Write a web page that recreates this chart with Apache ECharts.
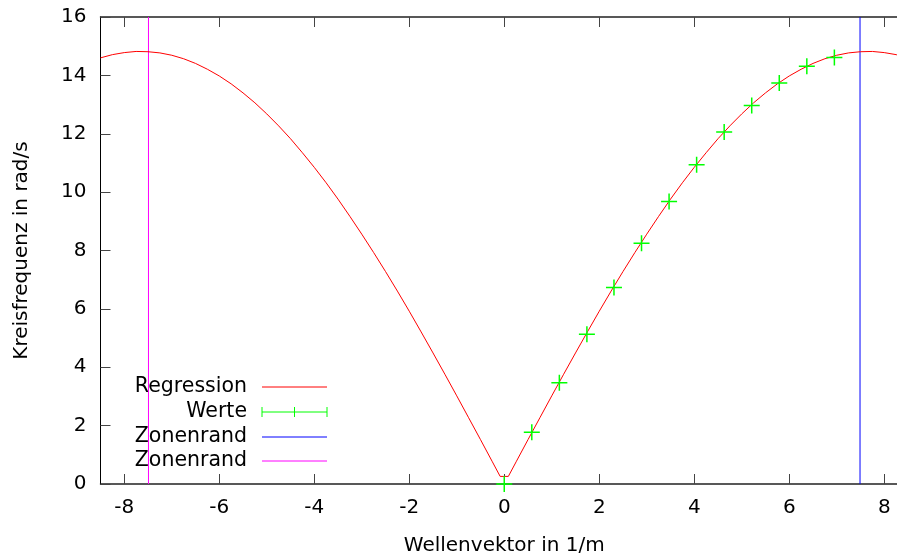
<!DOCTYPE html>
<html>
<head>
<meta charset="utf-8">
<script src="https://cdn.jsdelivr.net/npm/echarts@6/dist/echarts.min.js"></script>
<style>
  html, body { margin: 0; padding: 0; background: #fff; overflow: hidden; }
  #chart { width: 897px; height: 556px; }
</style>
</head>
<body>
<div id="chart"></div>
<script>
// Fitted dispersion curve (wave vector k, angular frequency omega)
const curveK = [-8.5, -8.25, -8, -7.75, -7.5, -7.25, -7, -6.75, -6.5, -6.25, -6, -5.75, -5.5, -5.25, -5, -4.75,
                -4.5, -4.25, -4, -3.75, -3.5, -3.25, -3, -2.75, -2.5, -2.25, -2, -1.75, -1.5, -1.25, -1, -0.75,
                -0.5, -0.25, -0.086,
                0.086, 0.25, 0.5, 0.75, 1, 1.25, 1.5, 1.75, 2, 2.25, 2.5, 2.75, 3, 3.25, 3.5, 3.75,
                4, 4.25, 4.5, 4.75, 5, 5.25, 5.5, 5.75, 6, 6.25, 6.5, 6.75, 7, 7.25, 7.5, 7.75, 8, 8.25, 8.5];
const curveW = [14.60, 14.71, 14.78, 14.82, 14.81, 14.77, 14.69, 14.57, 14.41, 14.21, 13.98, 13.71, 13.40, 13.06, 12.68, 12.27,
                11.83, 11.35, 10.85, 10.32, 9.76, 9.17, 8.56, 7.93, 7.28, 6.61, 5.92, 5.21, 4.49, 3.76, 3.02, 2.27,
                1.52, 0.76, 0.26,
                0.26, 0.76, 1.52, 2.27, 3.02, 3.76, 4.49, 5.21, 5.92, 6.61, 7.28, 7.93, 8.56, 9.17, 9.76, 10.32,
                10.85, 11.35, 11.83, 12.27, 12.68, 13.06, 13.40, 13.71, 13.98, 14.21, 14.41, 14.57, 14.69, 14.77, 14.81, 14.82, 14.78, 14.71, 14.60];

// Measured values
const measK = [0, 0.58, 1.16, 1.74, 2.31, 2.89, 3.47, 4.05, 4.63, 5.21, 5.79, 6.37, 6.95];
const measW = [0, 1.77, 3.47, 5.13, 6.73, 8.25, 9.68, 10.94, 12.06, 12.97, 13.74, 14.31, 14.61];

// Brillouin zone edges
const zoneEdgeRight = 7.49;
const zoneEdgeLeft = -7.49;

const xTicks = [-8, -6, -4, -2, 0, 2, 4, 6, 8];
const legendNames = ['Regression', 'Werte', 'Zonenrand', 'Zonenrand'];

const FONT = 'DejaVu Sans';
const RED = '#ff0000', GREEN = '#00ff00', BLUE = '#0000ff', MAGENTA = '#ff00ff';

const zip = (a, b) => a.map((v, i) => [v, b[i]]);

const plusSymbol = 'path://M0,7.25H16V8.75H0Z M7.25,0H8.75V16H7.25Z';

const chart = echarts.init(document.getElementById('chart'), null, { renderer: 'canvas' });

const xCommon = {
  type: 'value', min: -8.5, max: 8.5,
  axisLine: { show: true, onZero: false, lineStyle: { color: '#222', width: 1.5 } },
  axisTick: { show: true, inside: true, length: 10, customValues: xTicks, lineStyle: { color: '#444', width: 1 } },
  splitLine: { show: false }
};
const yCommon = {
  type: 'value', min: 0, max: 16, interval: 2,
  axisLine: { show: true, onZero: false, lineStyle: { color: '#000', width: 1 } },
  axisTick: { show: true, inside: true, length: 10, lineStyle: { color: '#444', width: 1 } },
  splitLine: { show: false }
};

// legend drawn as graphic rows: label right-aligned, sample line to the right
const legRowY = [387, 412, 437, 461];
const legTextRight = 247, legLineX0 = 262, legLineX1 = 327;
const legColors = [RED, GREEN, BLUE, MAGENTA];
const legendGraphics = [];
legendNames.forEach((name, i) => {
  const y = legRowY[i];
  legendGraphics.push({
    type: 'text', x: legTextRight, y: y,
    style: { text: name, font: '20.5px "' + FONT + '"', fill: '#000', textAlign: 'right', textVerticalAlign: 'middle' }
  });
  legendGraphics.push({
    type: 'line', shape: { x1: legLineX0, y1: y, x2: legLineX1, y2: y },
    style: { stroke: legColors[i], lineWidth: 1 }
  });
  if (name === 'Werte') {
    [legLineX0, (legLineX0 + legLineX1) / 2, legLineX1].forEach(x => {
      legendGraphics.push({
        type: 'line', shape: { x1: x, y1: y - 5, x2: x, y2: y + 5 },
        style: { stroke: GREEN, lineWidth: 1 }
      });
    });
  }
});

chart.setOption({
  animation: false,
  backgroundColor: '#fff',
  grid: { left: 100.5, right: -11, top: 17, bottom: 72, containLabel: false, outerBoundsMode: 'none' },
  xAxis: [
    Object.assign({}, xCommon, {
      position: 'bottom',
      name: 'Wellenvektor in 1/m', nameLocation: 'middle', nameGap: 52,
      nameTextStyle: { fontFamily: FONT, fontSize: 20, color: '#000' },
      axisLabel: { show: true, customValues: xTicks, margin: 14, fontFamily: FONT, fontSize: 20, color: '#000' }
    }),
    Object.assign({}, xCommon, { position: 'top', axisLabel: { show: false } })
  ],
  yAxis: [
    Object.assign({}, yCommon, {
      position: 'left',
      name: 'Kreisfrequenz in rad/s', nameLocation: 'middle', nameGap: 69,
      nameTextStyle: { fontFamily: FONT, fontSize: 20, color: '#000' },
      axisLabel: { show: true, margin: 14, fontFamily: FONT, fontSize: 20, color: '#000' }
    }),
    Object.assign({}, yCommon, { position: 'right', axisLabel: { show: false } })
  ],
  graphic: legendGraphics,
  series: [
    {
      name: 'Regression', type: 'line', data: zip(curveK, curveW),
      showSymbol: false, smooth: false, z: 3,
      lineStyle: { color: RED, width: 1 }
    },
    {
      name: 'Zonenrand', type: 'line', data: [[zoneEdgeRight, 0], [zoneEdgeRight, 16]],
      showSymbol: false, z: 2, lineStyle: { color: BLUE, width: 1 }
    },
    {
      name: 'Zonenrand', type: 'line', data: [[zoneEdgeLeft, 0], [zoneEdgeLeft, 16]],
      showSymbol: false, z: 2, lineStyle: { color: MAGENTA, width: 1 }
    },
    {
      name: 'Werte', type: 'scatter', data: zip(measK, measW),
      symbol: plusSymbol, symbolSize: 16, clip: false, z: 4,
      itemStyle: { color: GREEN, opacity: 1 }
    }
  ]
});
</script>
</body>
</html>
